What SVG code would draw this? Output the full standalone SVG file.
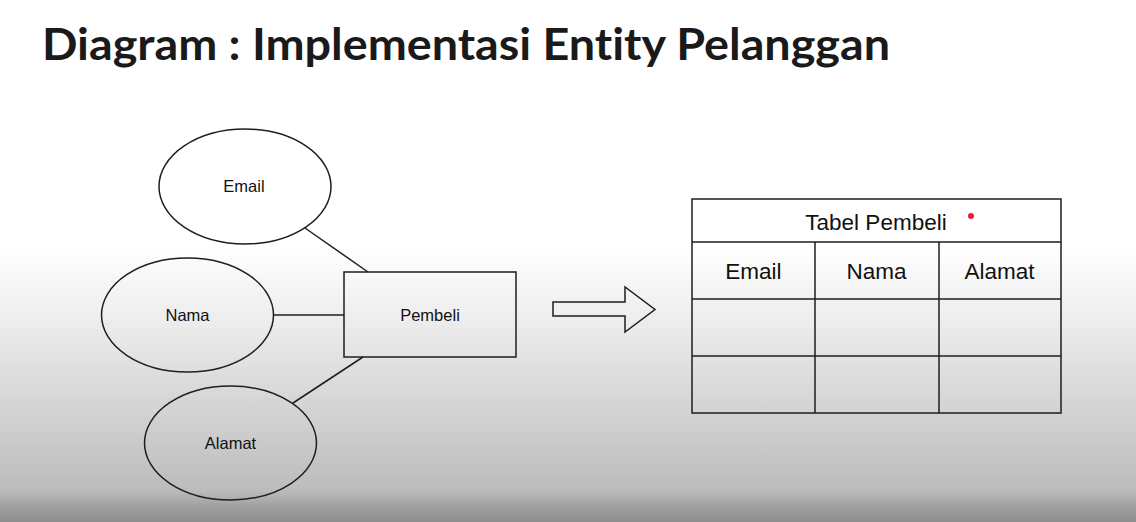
<svg xmlns="http://www.w3.org/2000/svg" width="1136" height="522" viewBox="0 0 1136 522">
<defs>
<linearGradient id="bg" x1="0" y1="0" x2="0" y2="1">
<stop offset="0" stop-color="#ffffff"/>
<stop offset="0.47" stop-color="#ffffff"/>
<stop offset="0.62" stop-color="#ececec"/>
<stop offset="0.94" stop-color="#bcbcbc"/>
<stop offset="0.97" stop-color="#a0a0a0"/>
<stop offset="1" stop-color="#8e8e8e"/>
</linearGradient>
<style>
.sh{fill:none;stroke:#1e1e1e;stroke-width:1.5}
.lbl{font-family:"Liberation Sans",Arial,sans-serif;font-size:16.5px;fill:#111;text-anchor:middle}
.tl{font-family:"Liberation Sans",Arial,sans-serif;font-size:22.5px;fill:#111;text-anchor:middle}
.ttl{font-family:Lato,"Open Sans",sans-serif;font-weight:700;font-size:44px;fill:#1a1a1a;font-variant-ligatures:none}
</style>
</defs>
<rect width="1136" height="522" fill="url(#bg)"/>
<text class="ttl" x="42" y="60" textLength="848" lengthAdjust="spacingAndGlyphs">Diagram : Implementasi Entity Pelanggan</text>
<g id="connectors">
<line class="sh" x1="305" y1="228" x2="368" y2="272"/>
<line class="sh" x1="273" y1="315" x2="344" y2="315"/>
<line class="sh" x1="293" y1="403" x2="363" y2="357"/>
</g>
<g id="email"><ellipse class="sh" cx="245" cy="186.5" rx="86" ry="57.5"/><text class="lbl" x="244" y="192">Email</text></g>
<g id="nama"><ellipse class="sh" cx="187.5" cy="315" rx="86" ry="57"/><text class="lbl" x="187.5" y="321">Nama</text></g>
<g id="alamat"><ellipse class="sh" cx="230.5" cy="443" rx="86" ry="57"/><text class="lbl" x="230.5" y="449">Alamat</text></g>
<g id="pembeli"><rect class="sh" x="344" y="272" width="172" height="85"/><text class="lbl" x="430" y="321">Pembeli</text></g>
<g id="arrow"><polygon class="sh" points="553,302 625,302 625,287 655,309.5 625,332 625,316 553,316"/></g>
<g id="tabel">
<rect class="sh" x="692" y="199" width="369" height="214"/>
<line class="sh" x1="692" y1="242" x2="1061" y2="242"/>
<line class="sh" x1="692" y1="299" x2="1061" y2="299"/>
<line class="sh" x1="692" y1="356" x2="1061" y2="356"/>
<line class="sh" x1="815" y1="242" x2="815" y2="413"/>
<line class="sh" x1="939" y1="242" x2="939" y2="413"/>
<text class="tl" x="876" y="230">Tabel Pembeli</text>
<circle cx="971" cy="216" r="3" fill="#e8203a"/>
<text class="tl" x="753.5" y="279">Email</text>
<text class="tl" x="876.5" y="279">Nama</text>
<text class="tl" x="999.5" y="279">Alamat</text>
</g>
</svg>
